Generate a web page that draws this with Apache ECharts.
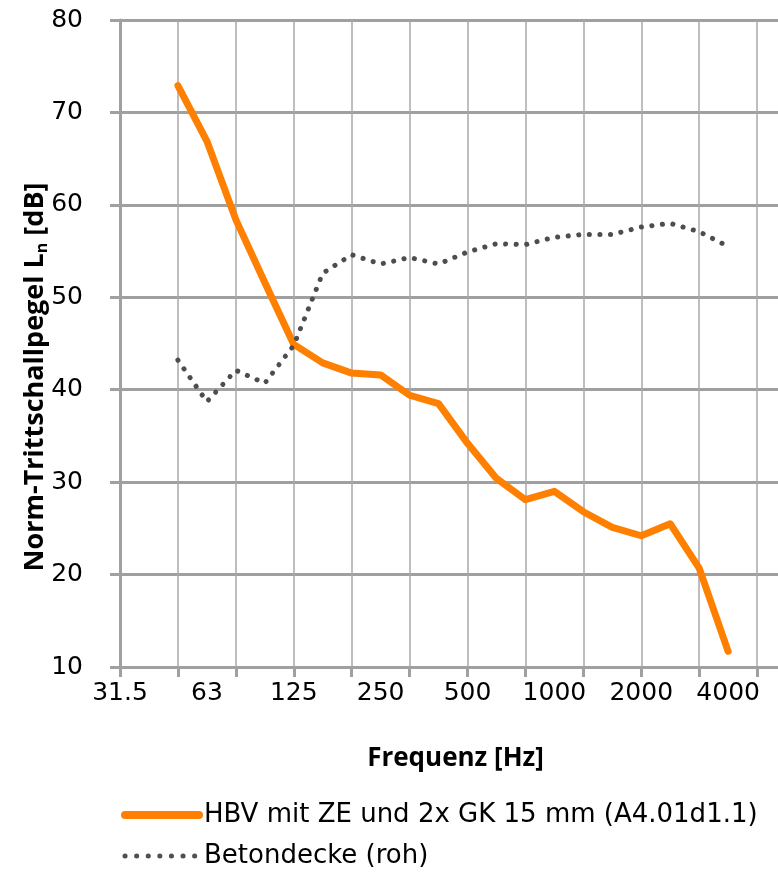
<!DOCTYPE html>
<html>
<head>
<meta charset="utf-8">
<script src="https://cdn.jsdelivr.net/npm/echarts@6/dist/echarts.min.js"></script>
<style>
html,body{margin:0;padding:0;background:#fff;}
#chart{width:778px;height:872px;}
</style>
</head>
<body>
<div id="chart"></div>
<script>
// third-octave band centre frequencies (category positions)
const freqBands = ['31.5','40','50','63','80','100','125','160','200','250','315','400','500','630','800','1000','1250','1600','2000','2500','3150','4000','5000'];
// frequencies of the measured points
const measuredFreqs = ['50','63','80','100','125','160','200','250','315','400','500','630','800','1000','1250','1600','2000','2500','3150','4000'];
// tick labels shown under the x axis (every octave)
const tickLabels = ['31.5','63','125','250','500','1000','2000','4000'];
// series values [dB]
const hbvValues = [72.9, 66.9, 58.4, 51.6, 44.9, 42.9, 41.8, 41.6, 39.4, 38.5, 34.2, 30.4, 28.1, 29.0, 26.8, 25.1, 24.2, 25.5, 20.7, 11.7];
const betonValues = [43.2, 38.7, 42.1, 40.7, 44.8, 52.6, 54.6, 53.6, 54.3, 53.6, 54.9, 55.8, 55.7, 56.5, 56.8, 56.8, 57.6, 58.0, 57.1, 55.5];

const seriesNames = ['HBV mit ZE und 2x GK 15 mm (A4.01d1.1)', 'Betondecke (roh)'];

function toPoints(vals){
  return vals.map((v,i)=>[freqBands.indexOf(measuredFreqs[i]), v]);
}

const FONT = 'DejaVu Sans';
const BFONT = 'Open Sans';
const chart = echarts.init(document.getElementById('chart'));
chart.setOption({
  animation:false,
  backgroundColor:'#fff',
  grid:{left:120, top:20, width:695, height:647, containLabel:false, outerBoundsMode:'none'},
  legend:{
    orient:'vertical', left:116, top:797, itemGap:15, height:100,
    itemWidth:74, itemHeight:14,
    textStyle:{fontFamily:FONT, fontSize:26, color:'#000'},
    itemStyle:{opacity:0},
    data:[
      {name:seriesNames[0], lineStyle:{width:8, cap:'round', color:'#ff7f00'}},
      {name:seriesNames[1], lineStyle:{width:5, type:[0.1,11.5], cap:'round', color:'#505050'}}
    ]
  },
  xAxis:[{
    type:'value', min:0, max:24, interval:2,
    axisLine:{show:true, lineStyle:{color:'#a0a0a0', width:3}},
    axisTick:{show:true, length:10, lineStyle:{color:'#a0a0a0', width:3}},
    axisLabel:{show:false},
    splitLine:{show:true, lineStyle:{color:'#a8a8a8', width:1.5}}
  },{
    type:'value', min:0, max:24, interval:3, position:'bottom',
    axisLine:{show:false}, axisTick:{show:false}, splitLine:{show:false},
    axisLabel:{
      margin:14, fontFamily:FONT, fontSize:25, color:'#000',
      formatter:function(v){ const k=Math.round(v/3); return (v%3===0 && k<tickLabels.length)? tickLabels[k] : ''; }
    },
    name:'Frequenz [Hz]', nameLocation:'middle', nameGap:79, nameMoveOverlap:false,
    nameTextStyle:{fontFamily:BFONT, fontSize:26, fontWeight:'bold', color:'#000', padding:[0,24,0,0]}
  }],
  yAxis:{
    type:'value', min:10, max:80, interval:10,
    axisLine:{show:true, lineStyle:{color:'#a0a0a0', width:3}},
    axisTick:{show:true, inside:false, length:10, lineStyle:{color:'#a0a0a0', width:3}},
    axisLabel:{margin:37, fontFamily:FONT, fontSize:25, color:'#000'},
    splitLine:{show:true, lineStyle:{color:'#a0a0a0', width:3}},
    name:'{a|Norm-Trittschallpegel L}{s|n}{a| [dB]}',
    nameLocation:'middle', nameGap:70, nameRotate:90, nameMoveOverlap:false,
    nameTextStyle:{
      padding:[0,67,0,0],
      rich:{
        a:{fontFamily:BFONT, fontSize:27, fontWeight:'bold', color:'#000'},
        s:{fontFamily:BFONT, fontSize:16, fontWeight:'bold', color:'#000', padding:[13,0,0,0]}
      }
    }
  },
  series:[{
    name:seriesNames[0], type:'line', xAxisIndex:0,
    data:toPoints(hbvValues),
    symbol:'none',
    lineStyle:{color:'#ff7f00', width:7, cap:'round', join:'round'},
    itemStyle:{color:'#ff7f00'},
    z:3
  },{
    name:seriesNames[1], type:'line', xAxisIndex:0,
    data:toPoints(betonValues),
    symbol:'none',
    lineStyle:{color:'#4d4d4d', width:5, type:[0.1,10.5], cap:'round'},
    itemStyle:{color:'#4d4d4d'},
    z:4
  }]
});
</script>
</body>
</html>
